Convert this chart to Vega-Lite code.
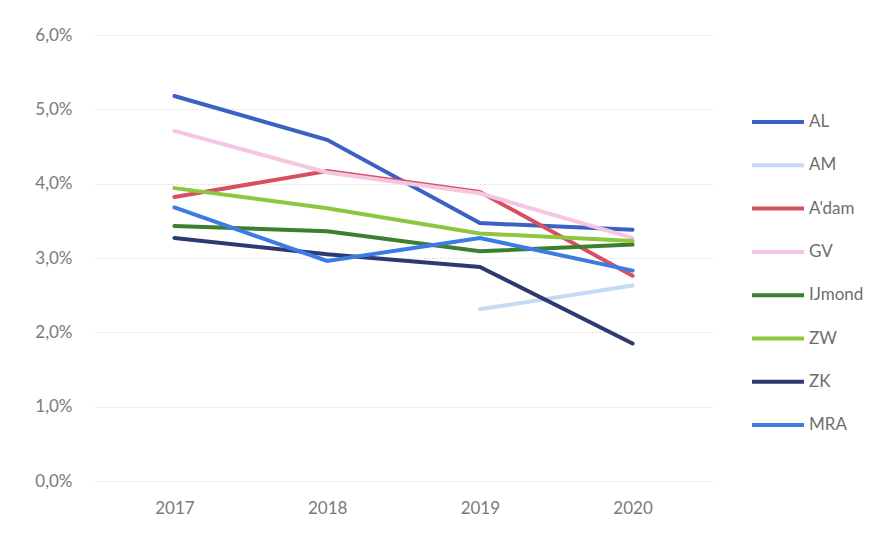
{
  "$schema": "https://vega.github.io/schema/vega-lite/v6.json",
  "width": 617,
  "height": 446,
  "autosize": "none",
  "padding": {"left": 95, "top": 35, "right": 171, "bottom": 54},
  "background": "white",
  "config": {"view": {"stroke": null}, "font": "Lato"},
  "data": {
    "values": [
      {"regio": "AL", "jaar": "2017", "pct": 5.18},
      {"regio": "AL", "jaar": "2018", "pct": 4.59},
      {"regio": "AL", "jaar": "2019", "pct": 3.47},
      {"regio": "AL", "jaar": "2020", "pct": 3.38},
      {"regio": "AM", "jaar": "2019", "pct": 2.31},
      {"regio": "AM", "jaar": "2020", "pct": 2.63},
      {"regio": "A'dam", "jaar": "2017", "pct": 3.82},
      {"regio": "A'dam", "jaar": "2018", "pct": 4.17},
      {"regio": "A'dam", "jaar": "2019", "pct": 3.89},
      {"regio": "A'dam", "jaar": "2020", "pct": 2.76},
      {"regio": "GV", "jaar": "2017", "pct": 4.71},
      {"regio": "GV", "jaar": "2018", "pct": 4.15},
      {"regio": "GV", "jaar": "2019", "pct": 3.87},
      {"regio": "GV", "jaar": "2020", "pct": 3.27},
      {"regio": "IJmond", "jaar": "2017", "pct": 3.43},
      {"regio": "IJmond", "jaar": "2018", "pct": 3.36},
      {"regio": "IJmond", "jaar": "2019", "pct": 3.09},
      {"regio": "IJmond", "jaar": "2020", "pct": 3.18},
      {"regio": "ZW", "jaar": "2017", "pct": 3.94},
      {"regio": "ZW", "jaar": "2018", "pct": 3.67},
      {"regio": "ZW", "jaar": "2019", "pct": 3.33},
      {"regio": "ZW", "jaar": "2020", "pct": 3.23},
      {"regio": "ZK", "jaar": "2017", "pct": 3.27},
      {"regio": "ZK", "jaar": "2018", "pct": 3.05},
      {"regio": "ZK", "jaar": "2019", "pct": 2.88},
      {"regio": "ZK", "jaar": "2020", "pct": 1.85},
      {"regio": "MRA", "jaar": "2017", "pct": 3.68},
      {"regio": "MRA", "jaar": "2018", "pct": 2.96},
      {"regio": "MRA", "jaar": "2019", "pct": 3.27},
      {"regio": "MRA", "jaar": "2020", "pct": 2.83}
    ]
  },
  "mark": {"type": "line", "strokeWidth": 4, "strokeCap": "round"},
  "encoding": {
    "x": {
      "field": "jaar", "type": "ordinal", "title": null,
      "scale": {"type": "point", "padding": 0.52},
      "axis": {"labelAngle": 0, "domain": false, "ticks": false, "labelFontSize": 17, "labelColor": "#7a7a7a", "labelPadding": 19, "grid": false}
    },
    "y": {
      "field": "pct", "type": "quantitative", "title": null,
      "scale": {"domain": [0, 6]},
      "axis": {"values": [0, 1, 2, 3, 4, 5, 6], "labelExpr": "replace(format(datum.value, '.1f'), '.', ',') + '%'", "domain": false, "ticks": false, "labelFontSize": 17, "labelColor": "#7a7a7a", "labelPadding": 23, "gridColor": "#dedede", "gridDash": [2, 2], "gridWidth": 1}
    },
    "color": {
      "field": "regio", "type": "nominal", "title": null,
      "scale": {
        "domain": ["AL", "AM", "A'dam", "GV", "IJmond", "ZW", "ZK", "MRA"],
        "range": ["#3a62c2", "#c3dcf2", "#d8505f", "#f5c6e1", "#3c7f2e", "#8dc63f", "#2d3a70", "#3b7be3"]
      },
      "legend": {
        "orient": "none", "legendX": 655, "legendY": 59,
        "symbolType": "stroke", "symbolSize": 2700, "symbolStrokeWidth": 4,
        "labelFontSize": 17, "labelColor": "#6e6e6e", "rowPadding": 7.3, "labelOffset": 3
      }
    }
  }
}
